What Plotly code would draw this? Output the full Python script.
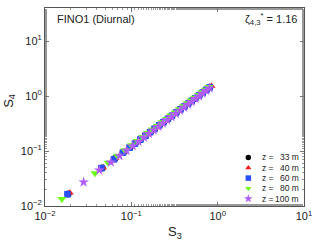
import plotly.graph_objects as go

# Series data (S3, S4) per height
s3_33 = [0.0185, 0.046, 0.064, 0.081, 0.096, 0.111, 0.128, 0.146, 0.166, 0.186, 0.211, 0.236, 0.266, 0.296, 0.331, 0.371, 0.411, 0.456, 0.501, 0.551, 0.611, 0.671, 0.741, 0.811]
s4_33 = [0.0166, 0.049, 0.072, 0.095, 0.116, 0.138, 0.163, 0.190, 0.221, 0.253, 0.294, 0.336, 0.386, 0.438, 0.500, 0.572, 0.646, 0.730, 0.816, 0.913, 1.032, 1.153, 1.296, 1.441]

s3_40 = [0.0194, 0.047, 0.066, 0.083, 0.099, 0.115, 0.133, 0.152, 0.172, 0.195, 0.22, 0.248, 0.278, 0.31, 0.35, 0.39, 0.435, 0.48, 0.53, 0.585, 0.645, 0.71, 0.78, 0.85]
s4_40 = [0.0175, 0.0500, 0.0746, 0.0979, 0.1205, 0.1438, 0.1706, 0.2000, 0.2313, 0.2680, 0.3090, 0.3559, 0.4074, 0.4634, 0.5346, 0.6072, 0.6909, 0.7757, 0.8723, 0.980, 1.100, 1.232, 1.376, 1.523]

s3_60 = [0.0182, 0.045, 0.063, 0.08, 0.095, 0.11, 0.127, 0.145, 0.165, 0.185, 0.21, 0.235, 0.265, 0.295, 0.33, 0.37, 0.41, 0.455, 0.5, 0.55, 0.61, 0.67, 0.74, 0.81]
s4_60 = [0.0164, 0.049, 0.0707, 0.0937, 0.1148, 0.1364, 0.1616, 0.1890, 0.2202, 0.2519, 0.2926, 0.3342, 0.3848, 0.4369, 0.4989, 0.5703, 0.6446, 0.7281, 0.8147, 0.9117, 1.030, 1.151, 1.294, 1.439]

s3_80 = [0.0157, 0.038, 0.054, 0.069, 0.084, 0.1, 0.117, 0.135, 0.155, 0.176, 0.2, 0.226, 0.255, 0.287, 0.322, 0.36, 0.4, 0.445, 0.49, 0.54, 0.595, 0.655, 0.72, 0.79]
s4_80 = [0.0134, 0.0395, 0.0613, 0.0818, 0.1033, 0.1268, 0.1526, 0.1806, 0.2126, 0.2470, 0.2871, 0.3318, 0.3826, 0.4398, 0.5038, 0.5747, 0.6503, 0.7382, 0.8268, 0.9274, 1.040, 1.165, 1.302, 1.453]

s3_100 = [0.028, 0.0425, 0.058, 0.073, 0.088, 0.104, 0.121, 0.14, 0.16, 0.182, 0.206, 0.232, 0.26, 0.292, 0.327, 0.366, 0.407, 0.452, 0.5, 0.552, 0.608, 0.668, 0.735, 0.805]
s4_100 = [0.0271, 0.0447, 0.0622, 0.0816, 0.1017, 0.1239, 0.1481, 0.1759, 0.2058, 0.2396, 0.2774, 0.3193, 0.3651, 0.4187, 0.4784, 0.5467, 0.6195, 0.7011, 0.7903, 0.8879, 0.9949, 1.112, 1.245, 1.386]

heights = ["33", "40", "60", "80", "100"]
x_tickvals = [0.01, 0.1, 1, 10]
x_ticktext = ["10<sup>−2</sup>", "10<sup>−1</sup>", "10<sup>0</sup>", "10<sup>1</sup>"]
y_tickvals = [0.01, 0.1, 1, 10]
y_ticktext = ["10<sup>−2</sup>", "10<sup>−1</sup>", "10<sup>0</sup>", "10<sup>1</sup>"]

series = [(s3_33, s4_33), (s3_40, s4_40), (s3_60, s4_60), (s3_80, s4_80), (s3_100, s4_100)]
colors = ["#000000", "#ff1a1a", "#2a4fff", "#6dff1a", "#b05cff"]
symbols = ["circle", "triangle-up", "square", "triangle-down", "star"]
sizes = [7, 7, 6.5, 8, 8]

FONT = "Liberation Sans, Arial, sans-serif"
TXT = "#222222"

fig = go.Figure()
for (x, y), h, c, s, sz in zip(series, heights, colors, symbols, sizes):
    fig.add_trace(go.Scatter(x=x, y=y, mode="markers", name="z = " + h + " m", showlegend=False,
                             marker=dict(color=c, symbol=s, size=sz, line=dict(width=0))))

# custom compact legend: markers on an overlay unit axis, text as annotations
leg_rows = [0.245, 0.193, 0.141, 0.089, 0.037]
leg_x = 0.785
for i, (h, c, s) in enumerate(zip(heights, colors, symbols)):
    fig.add_trace(go.Scatter(x=[leg_x], y=[leg_rows[i]], xaxis="x2", yaxis="y2", mode="markers",
                             showlegend=False, hoverinfo="skip",
                             marker=dict(color=c, symbol=s, size=5.5 if s != "star" else 6.5, line=dict(width=0))))
    fig.add_annotation(x=0.83, y=leg_rows[i], xref="paper", yref="paper", xanchor="left", yanchor="middle",
                       text="z =", showarrow=False, font=dict(family=FONT, size=8.5, color=TXT))
    fig.add_annotation(x=0.99, y=leg_rows[i], xref="paper", yref="paper", xanchor="right", yanchor="middle",
                       text=h + " m", showarrow=False, font=dict(family=FONT, size=8.5, color=TXT))

axis_common = dict(type="log", showline=True, linecolor="#555555", linewidth=1, mirror="ticks",
                   ticks="inside", ticklen=4, tickcolor="#777777", showgrid=False, zeroline=False,
                   tickfont=dict(family=FONT, size=11, color=TXT),
                   minor=dict(ticks="inside", ticklen=2, tickcolor="#999999", showgrid=False))

fig.update_xaxes(range=[-2, 1], tickvals=x_tickvals, ticktext=x_ticktext, **axis_common)
fig.update_yaxes(range=[-2, 1.6], tickvals=y_tickvals, ticktext=y_ticktext, **axis_common)

fig.update_layout(
    xaxis2=dict(overlaying="x", range=[0, 1], visible=False, fixedrange=True),
    yaxis2=dict(overlaying="y", range=[0, 1], visible=False, fixedrange=True),
)

# axis titles
fig.add_annotation(x=0.5, y=-0.185, xref="paper", yref="paper", xanchor="center", yanchor="bottom",
                   text="S<sub>3</sub>", showarrow=False, font=dict(family=FONT, size=13, color=TXT))
fig.add_annotation(x=-0.14, y=0.53, xref="paper", yref="paper", xanchor="center", yanchor="middle",
                   text="S<sub>4</sub>", textangle=-90, showarrow=False, font=dict(family=FONT, size=13, color=TXT))

fig.add_annotation(x=0.04, y=0.985, xref="paper", yref="paper", xanchor="left", yanchor="top",
                   text="FINO1 (Diurnal)", showarrow=False, font=dict(family=FONT, size=11, color=TXT))
fig.add_annotation(x=0.985, y=0.995, xref="paper", yref="paper", xanchor="right", yanchor="top",
                   text="ζ<sub>4,3</sub><sup>*</sup> = 1.16", showarrow=False, font=dict(family=FONT, size=11, color=TXT))

fig.update_layout(width=319, height=243, margin=dict(l=45, r=12, t=7, b=37),
                  plot_bgcolor="white", paper_bgcolor="white", showlegend=False,
                  font=dict(family=FONT))

fig.write_html("out.html", config={"displayModeBar": False},
               post_script="document.body.style.margin='0';document.body.style.padding='0';")
